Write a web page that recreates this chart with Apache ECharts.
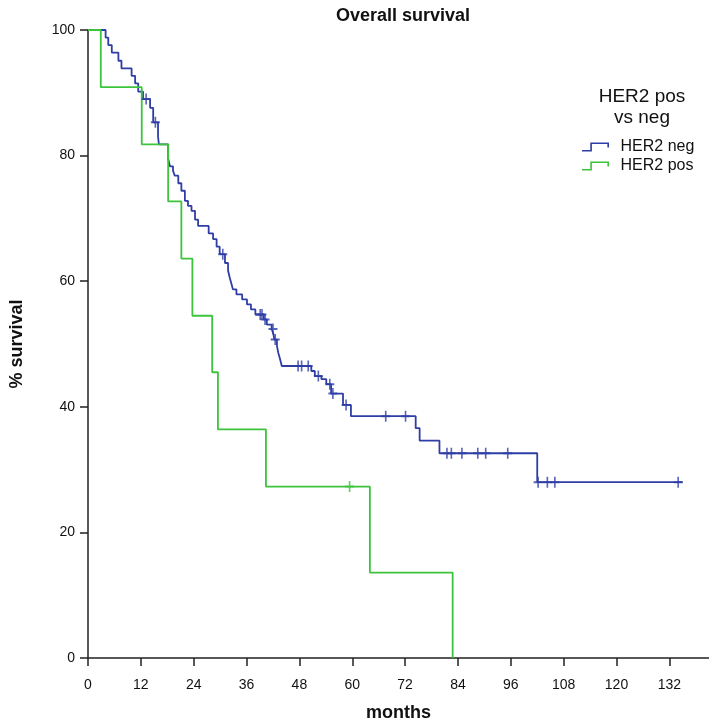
<!DOCTYPE html>
<html>
<head>
<meta charset="utf-8">
<script src="https://cdn.jsdelivr.net/npm/echarts@6/dist/echarts.min.js"></script>
<style>
html,body{margin:0;padding:0;background:#fff;}
#chart{width:709px;height:728px;}
</style>
</head>
<body>
<div id="chart"></div>
<script>
// ---- data (months, % survival) ----
const xTicks = [0,12,24,36,48,60,72,84,96,108,120,132];
const yTicks = [0,20,40,60,80,100];

const negTimes = [0,4.0,4.6,5.4,6.9,7.6,9.9,10.7,11.4,12.5,14.1,14.8,15.9,16.1,18.2,18.6,19.3,19.7,20.5,21.2,22.0,22.7,23.5,24.3,25.0,27.4,28.4,29.2,29.9,31.1,31.8,32.2,32.6,32.9,33.7,35.0,36.1,37.0,38.0,39.9,40.6,41.7,42.1,42.3,42.9,43.2,43.6,44.0,50.7,51.5,53.0,54.1,55.2,57.9,59.7,74.4,75.3,79.8,102.0,135.0];
const negSurv  = [100,98.8,97.6,96.4,95.1,93.9,92.7,91.5,90.2,89.0,87.6,85.3,83.0,81.8,79.5,78.3,77.6,76.8,75.6,74.4,72.8,72.0,71.2,69.8,68.8,67.6,66.7,65.5,64.3,62.9,61.7,60.5,59.5,58.7,57.9,57.1,56.3,55.5,54.7,53.9,53.1,52.4,51.6,50.7,49.7,48.6,47.6,46.5,45.7,44.9,44.4,43.6,42.1,40.3,38.5,36.6,34.6,32.6,28.0,28.0];
const negCensor = [13.2,15.3,30.6,39.1,39.5,40.2,42.0,42.5,47.7,48.5,50.0,52.3,54.9,55.6,58.6,67.6,72.1,81.5,82.5,84.9,88.5,90.3,95.3,102.2,104.3,106.0,134.0];

const posTimes = [0,2.9,12.2,18.2,21.2,23.7,28.2,29.5,40.4,64.0,82.8];
const posSurv  = [100,90.9,81.8,72.7,63.6,54.5,45.5,36.4,27.3,13.6,0];
const posCensor = [59.4];

const seriesNames = ['HER2 neg','HER2 pos'];
const seriesColors = ['#2f3ea6','#3cc43c'];

// ---- helpers ----
function pairs(t, s){ return t.map((v,i)=>[v, s[i]]); }
function levelAt(t, times, surv){
  let lv = surv[0];
  for (let i=0;i<times.length;i++){ if (times[i] <= t) lv = surv[i]; }
  return lv;
}
function censorPts(c, times, surv){ return c.map(t=>[t, levelAt(t, times, surv)]); }

const plusPath = 'path://M-1.8,-10 L1.8,-10 L1.8,-1.8 L10,-1.8 L10,1.8 L1.8,1.8 L1.8,10 L-1.8,10 L-1.8,1.8 L-10,1.8 L-10,-1.8 L-1.8,-1.8 Z';
const stepIcon = 'path://M0,8.2 L9.2,8.2 L9.2,0 L30,0 L30,5.5 L28.2,5.5 L28.2,1.8 L11,1.8 L11,10 L0,10 Z';

const font = '"Liberation Sans", Arial, sans-serif';

const chart = echarts.init(document.getElementById('chart'), null, {renderer:'canvas'});
chart.setOption({
  animation:false,
  backgroundColor:'#ffffff',
  title:{
    text:'Overall survival',
    left:398, top:2, textAlign:'center',
    textStyle:{fontFamily:font, fontSize:18, fontWeight:'bold', color:'#111'}
  },
  legend:{
    orient:'vertical', left:582, top:139, padding:0,
    itemWidth:30, itemHeight:9, itemGap:3,
    textStyle:{fontFamily:font, fontSize:16, color:'#111', padding:[0,0,0,5]},
    data:[{name:seriesNames[0], icon:stepIcon},{name:seriesNames[1], icon:stepIcon}]
  },
  graphic:[{
    type:'text', x:642, y:86,
    style:{text:'HER2 pos\nvs neg', x:0, y:0, textAlign:'center', textVerticalAlign:'top',
      font:'19px "Liberation Sans", Arial, sans-serif', fill:'#111', lineHeight:21}
  }],
  grid:{left:83, right:0, top:30, bottom:70, containLabel:false},
  xAxis:{
    type:'value', min:0, max:141, interval:12,
    name:'months', nameLocation:'middle', nameGap:46,
    nameTextStyle:{fontFamily:font, fontSize:18, fontWeight:'bold', color:'#111'},
    axisLine:{show:true, onZero:false, lineStyle:{color:'#222', width:1.5}},
    axisTick:{show:true, length:8, lineStyle:{color:'#222', width:1.5}},
    axisLabel:{margin:20, fontFamily:font, fontSize:14, color:'#111',
      showMaxLabel:false,
      formatter:function(v){ return xTicks.indexOf(v) >= 0 ? String(v) : ''; }},
    splitLine:{show:false}
  },
  yAxis:{
    type:'value', min:0, max:100, interval:20,
    name:'% survival', nameLocation:'middle', nameGap:62, nameRotate:90,
    nameTextStyle:{fontFamily:font, fontSize:18, fontWeight:'bold', color:'#111'},
    axisLine:{show:true, onZero:false, lineStyle:{color:'#222', width:1.5}},
    axisTick:{show:true, length:8, lineStyle:{color:'#222', width:1.5}},
    axisLabel:{margin:13, fontFamily:font, fontSize:14, color:'#111',
      formatter:function(v){ return yTicks.indexOf(v) >= 0 ? String(v) : ''; }},
    splitLine:{show:false}
  },
  series:[
    {name:seriesNames[0], type:'line', step:'end', showSymbol:false, symbol:'none',
     data:pairs(negTimes, negSurv), color:seriesColors[0],
     lineStyle:{color:seriesColors[0], width:1.8}, z:3},
    {name:seriesNames[1], type:'line', step:'end', showSymbol:false, symbol:'none',
     data:pairs(posTimes, posSurv), color:seriesColors[1],
     lineStyle:{color:seriesColors[1], width:1.8}, z:4},
    {name:seriesNames[0], type:'scatter', symbol:plusPath, symbolSize:[9,11],
     data:censorPts(negCensor, negTimes, negSurv), color:seriesColors[0],
     itemStyle:{color:seriesColors[0]}, z:5},
    {name:seriesNames[1], type:'scatter', symbol:plusPath, symbolSize:[9,11],
     data:censorPts(posCensor, posTimes, posSurv), color:seriesColors[1],
     itemStyle:{color:seriesColors[1]}, z:5}
  ]
});
</script>
</body>
</html>
